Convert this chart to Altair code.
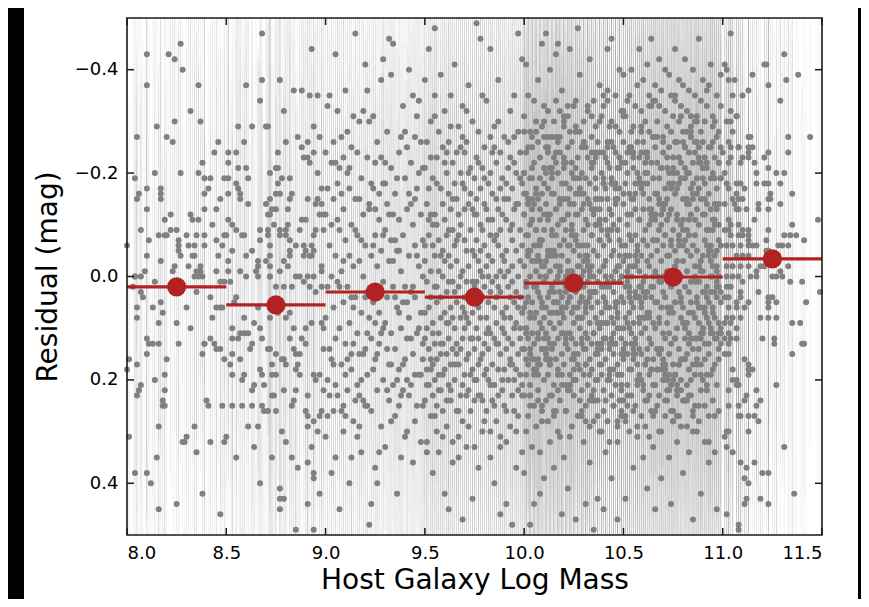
import altair as alt
import pandas as pd

# Each token: XX = mass offset inside bin (hundredths), sYY = residual (hundredths), E = error (tenths)
B80 = """
27-454 10-434 21-433 24-425 28-406 10-375 36-374 32-326 37-305 15-294 24-306 05-274 20-275 23-263
46-264 44-245 38-224 14-205 27-203 04-196 36-205 39-194 42-193 49-195 10-176 06-164 05-153 17-175
17-164 17-155 39-166 41-173 47-154 10-136 22-125 39-134 45-137 32-125 19-114 33-116 36-113 43-105
07-096 16-084 22-095 25-094 19-086 20-083 26-075 26-064 26-056 27-044 30-085 35-084 39-086 39-065
11-074 45-075 49-083 31-066 34-064 48-065 10-045 33-044 34-046 46-044 17-035 24-026 31-025 37-024
37-013 09-014 23-016 35-015 45-014 04+004 00-065
04+005 07+004 03+026 07+034 08+045 14+016 36+004 38+003 34+005 47+014 49+016 35+035 42+044 17+055
13+066 05+064 05+085 18+073 30+065 45+066 48+064 47+065 43+086 16+095 25+094 32+106 10+125 11+134
13+133 16+135 26+136 39+134 39+135 42+126 44+134 45+145 47+143 10+155 20+164 38+155 49+166 01+165
05+174 00+185 14+206 19+194 07+215 06+224 05+236 19+224 18+245 18+254 19+256 40+245 41+254 48+255
16+296 34+295 01+315 30+314 28+326 29+324 35+345 42+326 49+324 15+355 04+386 10+385 12+406 38+425
25+446 16+455 47+466
"""

B85 = """
18-475 43-446 18-385 10-374 27-386 17-345 34-364 38-365 42-356 46-354 29-325 06-294 13-295 21-296
20-294 44-295 36-275 41-264 47-276 09-265 30-264 38-255 01-245 05-246 26-244 39-235 41-234 44-246
42-225 01-226 10-214 06-215 22-205 25-214 26-216 46-205 01-194 11-195 05-186 06-175 07-164 26-185
28-196 32-194 48-175 25-165 27-164 33-166 01-165 07-154 41-155 46-156 22-154 20-145 32-156 31-134
11-145 23-135 25-136 21-124 22-125 45-145 48-146 47-124 49-125 01-114 03-105 24-106 40-115 38-114
31-105 30-094 27-096 37-095 45-094 49-095 05-096 17-095 21-094 21-085 08-086 09-084 00-085 30-086
32-074 27-085 17-075 44-086 43-064 44-055 35-066 39-064 40-055 42-046 22-065 03-054 13-055 32-056
32-044 39-045 43-046 10-044 22-045 20-036 16-034 22-025 01-035 01-014 29-035 31-026 48-024 48-015
07-016 15-015 16-024 27-015 35+004 37+005 41+006 44+004 22+005
02+014 10+005 16+004 22+006 25+025 29+024 33+025 39+016 42+024 45+035 48+026 05+045 04+056 16+065
22+085 26+074 30+084 32+076 09+085 03+104 07+115 09+114 11+116 17+105 18+125 34+106 40+104 43+095
48+094 49+106 14+095 32+124 38+125 40+136 03+124 06+125 13+136 12+144 21+145 22+144 34+146 35+155
37+156 49+144 25+155 28+164 29+165 30+176 03+154 07+166 02+175 23+174 17+186 36+175 37+194 35+185
44+196 47+194 45+205 09+195 08+206 03+194 18+195 23+196 25+194 14+215 13+226 19+214 35+225 29+226
34+244 41+235 49+226 23+235 24+234 03+256 08+255 13+254 18+256 19+265 21+264 25+266 33+255 40+264
41+275 48+266 47+275 44+286 41+295 46+306 11+295 16+294 28+306 00+315 30+326 14+334 43+335 05+356
23+355 33+354 41+365 44+386 44+395 36+376 17+406 27+415 29+434 27+436 27+455 47+426 41+444 35+495
44+496
"""

B90 = """
00-125 00+084 00+316 01-335 01+025 01+204 02-064 02+146 03-224 03+005 03+385 04-156 04+064 04+265
05-434 05-044 05+124 06-185 06+016 06+236 07-095 07+104 07+454 08-276 08-014 08+175 09-135 09+056
09+306 10-364 10-075 10+134 11-204 11+025 11+225 12-045 12+095 12+405 13-255 13-106 13+185 14-024
14+064 14+286 15-476 15-154 15+045 16-085 16+115 16+214 17-305 17-035 17+155 18-196 18+074 18+344
19-125 19+006 19+244 20-415 20-064 20+145 21-234 21+035 21+195 22-145 22+085 22+486 23-045 23+125
23+264 24-315 24-176 24+055 25-085 25+165 25+375 26-264 26-025 26+225 27-115 27+074 27+135 28-385
28-054 28+296 29-185 29+015 29+205 30-095 30+094 30+335 31-285 31-144 31+045 32-036 32+175 32+245
33-215 33-075 33+115 34-455 34-125 34+025 35-165 35+144 35+275 36-054 36+065 36+426 37-245 37-115
37+185 38-015 38+105 38+234 39-335 39-085 39+055 40-195 40+024 40+165 41-135 41+125 41+305 42-405
42-045 42+085 43-225 43+035 43+215 44-105 44+154 44+365 45-276 45-065 45+045 46-175 46+114 46+255
47-345 47-025 47+195 48-125 48+075 48+324 49-215 49+005 49+135
02-355 04-265 06-115 08+265 10+195 12-175 14-315 16+315 18-075 20+255 22-305 24+185 26+405 28-235
30-225 32-465 34+215 36-195 38+355 40-285 42+235 44-355 46-045 48-265 01-175 03+165 05+215 07-215
09-235 11+165 13+355 15+245 17-155 19+155 21-365 23-185 25-225 27+345 29-425 31+225 33+285 35-075
37+255 39+175 41-255 43-145 45+195 47+105 49+255 03-105 05-225 07+025 09+255 11-285 13+045 15-095
17+235 19-325 21+115 23+445 25+095 27-165 29+105 31+145 33-395 35+045 37-055 39+225 41+055 43+125
45+285 47-205 49-075 00-245 02+235 04+175 06-325 08-165 10+275 12-215 14+135 16-245 18+205 20+045
22-135 24-065 26+155 28+115 30-185 32-125 34-035 36+205 38-275 40+315 42-165 44+025 46-315 48+195
01+275 05+355 09-035 13+155 17+295 21+255 25-135 29-085 33+175 37+075 41+205 45-155 49+165
"""

B95 = """
00-215 00-035 00+125 00+245 00-385 00+075 01-145 01+015 01+185 01+325 01-265 01+105
02-085 02+065 02+215 02-445 02-175 02+145 03-305 03-015 03+165 03+275 03+045 03-125
04-195 04+095 04+235 04-065 04+385 04+175 05-125 05+025 05+205 05-355 05+135 05-045
06-235 06+055 06+255 06-105 06+165 06+025 07-075 07+115 07+195 07-285 07+345 07-015
08-175 08+045 08+225 08-395 08+085 08+155 09-255 09-055 09+135 09+265 09+005 09-145
10-115 10+075 10+185 10-325 10+425 10-035 11-205 11+035 11+155 11+295 11-085 11+095
12-045 12+125 12-265 12+215 12-165 12+015 13-135 13+065 13+245 13-355 13+175 13-025
14-225 14+015 14+145 14+365 14-095 14+085 15-065 15+105 15-185 15+205 15-415 15+035
16-155 16+055 16+265 16-035 16+135 16-245 17-295 17-085 17+175 17+025 17+315 17-125
18-105 18+085 18+235 18-205 18+005 18+145 19-185 19-015 19+125 19+285 19-335 19+065
20-075 20+045 20+195 20-245 20+105 20-135 21-265 21+015 21+165 21+335 21-055 21+085
22-145 22+095 22-025 22+225 22-375 22+155 23-215 23+035 23+125 23-095 23+265 23-165
24-055 24+075 24+185 24-305 24+015 24+435 25-125 25+025 25+145 25+245 25-195 25-045
26-235 26+105 26-075 26+205 26+015 26-155 27-035 27+065 27+175 27-285 27+125 27+375
28-175 28-015 28+235 28-105 28+085 28-465 29-095 29+045 29+155 29+305 29-215 29+005
30-255 30+025 30+135 30-065 30+195 30-145 31-135 31+085 31-025 31+265 31-345 31+115
32-045 32+055 32+205 32-185 32+145 32+005 33-205 33-085 33+115 33+355 33+035 33-275
34-115 34+015 34+175 34-035 34+245 34-165 35-295 35+065 35+125 35-075 35+215 35+405
36-155 36-005 36+095 36+285 36-225 36+045 37-065 37+135 37-135 37+185 37+025 37-385
38-245 38+035 38+155 38-095 38+335 38-015 39-125 39+075 39+225 39-195 39+105 39-045
40-035 40+115 40-275 40+185 40+005 40+255 41-185 41-055 41+145 41-115 41+065 41+445
42-265 42+025 42+205 42-015 42+125 42-155 43-095 43+085 43+175 43-325 43+045 43+295
44-175 44-025 44+135 44+235 44-075 44+015 45-225 45+055 45+105 45-135 45+265 45-355
46-055 46+035 46+185 46-205 46+095 46+375 47-145 47+005 47+155 47-285 47+065 47+225
48-095 48+125 48-035 48+195 48-245 48+045 49-185 49+075 49+215 49-065 49+145 49-425
05-485 19+475 33-445 44+485 12+455 26-495 38+465 47-475
"""

B95X = """
03+185 07+225 11+245 15+175 19+215 23+195 27+235 31+185 35+255 39+205 43+165 47+275
01+215 05+275 09+195 13+225 17+265 21+235 25+205 29+245 33+215 37+235 41+265 45+205 49+235
02-115 06-185 10-225 14-155 18-255 22-205 26-125 30-195 34-245 38-175 42-215 46-145
04+115 08+135 12+095 16+155 20+075 24+125 28+165 32+105 36+135 40+085 44+175 48+105
00-065 04-105 08-045 12-095 16-075 20-175 24-135 28-055 32-115 36-085 40-155 44-105 48-195
01+345 09+315 17+355 25+335 33+305 41+325 49+345 05-315 13-295 21-325 29-355 37-305 45-275
06+305 14+325 22+295 30+285 38+315 46+305 03-235 11-245 19-275 27-225 35-255 43-235
"""

B100 = """
00-315 00-125 00-025 00+065 00+145 00+235 00-205 00+385 01-245 01-085 01+015 01+105 01+195 01-165 01+305 01-415
02-355 02-155 02-045 02+045 02+125 02+275 02-255 02+175 03-195 03-105 03+005 03+085 03+215 03-285 03+145 03-055
04-275 04-135 04-035 04+055 04+165 04+335 04-215 04+115 05-225 05-065 05+025 05+135 05+255 05-345 05-145 05+445
06-305 06-175 06-015 06+075 06+185 06+295 06-095 06+025 07-155 07-045 07+035 07+115 07+225 07-265 07-385 07+165
08-235 08-115 08-005 08+095 08+175 08+345 08-195 08+045 09-295 09-075 09+055 09+145 09+265 09-165 09-025 09-455
10-185 10-095 10+015 10+085 10+205 10-335 10+125 10+395 11-255 11-145 11-035 11+065 11+155 11+245 11-205 11+005
12-325 12-055 12+045 12+125 12+285 12-175 12-115 12+195 13-215 13-125 13-015 13+095 13+175 13-405 13+035 13+325
14-275 14-085 14+025 14+145 14+235 14-195 14-045 14+075 15-165 15-055 15+055 15+105 15+215 15-305 15+375 15-235
16-345 16-135 16-025 16+075 16+165 16+265 16-085 16+015 17-205 17-105 17+005 17+125 17+195 17-265 17+055 17-455
18-245 18-065 18+035 18+095 18+245 18-155 18+315 18-025 19-185 19-115 19-045 19+065 19+155 19+215 19-365 19+115
20-295 20-155 20+015 20+085 20+175 20+355 20-075 20-225 21-225 21-095 21+025 21+135 21+265 21-185 21-005 21+065
22-315 22-125 22-035 22+055 22+145 22+225 22-255 22+415 23-175 23-065 23+045 23+115 23+195 23-285 23-145 23+005
24-265 24-105 24-015 24+075 24+165 24+295 24-205 24+125 25-195 25-145 25+005 25+095 25+235 25-335 25-055 25+185
26-345 26-085 26+035 26+135 26+205 26-215 26-165 26+475 27-235 27-125 27-025 27+065 27+155 27+275 27-065 27+015
28-285 28-045 28+055 28+105 28+185 28-175 28-395 28+245 29-205 29-135 29-005 29+085 29+225 29-255 29+135 29+045
30-165 30-095 30+025 30+145 30+195 30+325 30-305 30-035 31-255 31-115 31-045 31+075 31+175 31-195 31+255 31+115
32-325 32-065 32+015 32+125 32+215 32-155 32-235 32+055 33-185 33-145 33+045 33+095 33+165 33+365 33-015 33-425
34-275 34-085 34-025 34+065 34+235 34-215 34+135 34+185 35-225 35-125 35+005 35+115 35+285 35-345 35-055 35+035
36-295 36-105 36+035 36+085 36+155 36+205 36-175 36-245 37-155 37-045 37+055 37+135 37+245 37-265 37+015 37+435
38-245 38-135 38-015 38+105 38+175 38+305 38-075 38-375 39-205 39-095 39+025 39+075 39+195 39-315 39-155 39+145
40-335 40-065 40+045 40+125 40+265 40-185 40-025 40+225 41-175 41-115 41-035 41+055 41+165 41-235 41+345 41+095
42-265 42-155 42+015 42+095 42+205 42+285 42-085 42-445 43-215 43-075 43+065 43+145 43+185 43-295 43-135 43+025
44-305 44-125 44-005 44+085 44+235 44-195 44+395 44+125 45-185 45-055 45+035 45+115 45+155 45+255 45-255 45-105
46-245 46-145 46+055 46+135 46+215 46-355 46-015 46+065 47-155 47-095 47-025 47+075 47+175 47+325 47-215 47+195
48-285 48-115 48+015 48+105 48+245 48-175 48-045 48-405 49-225 49-065 49+045 49+125 49+195 49-325 49+155 49+005
03+485 11-475 19+465 27-485 35+495 44-465 08+425 31+445 40+455 16-435 23-445 47+475
"""

B100X = """
00-285 07+125 14-055 21+215 28-175 35+035 42-225 49+275 06-095 13+165 20-315 27+085 34-135 41+245 48-025
05+185 12-255 19+115 26-075 33+295 40-195 47+055 04-115 11+145 18-275 25+205 32-045 39+095 46-155 03+255
10-215 17+015 24-085 31+175 38-305 45+135 02-145 09+065 16-245 23+225 30-015 37+155 44-185 01+105 08-065
15+265 22-125 29+045 36-235 43+195
03+075 14-215 25+155 36-105 47+285 08-035 19+195 30-265 41+025 02-145 13+235 24-085 35+115 46-295 07+175
18-015 29+265 40-185 01+055 12-125 23+215 34-245 45+095 06-065 17+305 28-165 39+135 00-205 11+005 22-335
33+245 44-045 05+165 16-225 27+085 38-115 49+275 10-275 21+125 32-025 43+205 04-155 15+035 26-195 37+145
48-075 09+255 20-235 31+065 42-095
06-165 19+045 32-335 45+185 08-075 21+265 34-225 47+105 10-025 23+315 36-135 49+215 12-275 25+065 38-105
01+165 14-205 27+015 40-355 03+235 16-045 29+125 42-255 05+085 18-155 31+285 44-095 07+195 20-305 33+035
46-185 09+145 22-065 35+245 48-235 11+115 24-015 37+205 00-125 13+075 26-285 39+175 02-055 15+275 28-195
41+005 04-115 17+225 30-265 43+135
09+105 26-125 43+205 10-305 27+025 44-185 11+145 28-065 45+255 12-245 29+085 46-015 13+175 30-145 47+295
14-095 31+055 48-215 15+135 32-035 49+225 16-275 33+005 00-165 17+185 34-085 01+115 18-325 35+245 02-045
19+075 36-195 03+155 20-115 37+275 04-255 21+035 38-075 05+195 22-155 39+095 06-285 23+215 40-025 07+125
24-225 41+065 08-135 25+165 42-365
12-045 31+145 00-205 19+065 38-115 07+245 26-295 45+015 14-165 33+195 02-085 21+115 40-245 09+285 28-025
47+085 16-135 35+225 04-195 23+045 42-345 11+165 30-065 49+265 18-145 37+095 06-035 25+205 44-265 13+135
32-105 01+025 20-215 39+305 08-075 27+175 46-175 15+055 34-315 03+235 22-015 41+125 10-125 29+275 48-235
17+075 36-155 05+185 24-095 43+325
"""

B105 = """
00-265 00-145 00-035 00+055 00+165 00+245 00-395 00+105 01-315 01-185 01-065 01+025 01+135 01+285 01-225 01+435
02-205 02-105 02+015 02+095 02+215 02-345 02-005 02+155 03-355 03-165 03-045 03+075 03+185 03+305 03-255 03+025
04-245 04-125 04+005 04+115 04+235 04-405 04-075 04+185 05-295 05-155 05-025 05+065 05+145 05+375 05-215 05+095
06-185 06-085 06+035 06+125 06+255 06-335 06-135 06+045 07-375 07-205 07-055 07+045 07+175 07+215 07-265 07+315
08-235 08-115 08+025 08+095 08+195 08-445 08-015 08+145 09-325 09-175 09-045 09+055 09+155 09+275 09-245 09+115
10-265 10-135 10+015 10+085 10+225 10-385 10-075 10+355 11-205 11-095 11-005 11+105 11+175 11+295 11-305 11+045
12-415 12-185 12-065 12+035 12+145 12+245 12-235 12+415 13-285 13-155 13-025 13+075 13+195 13-355 13-105 13+125
14-225 14-115 14+045 14+135 14+265 14-465 14-045 14+185 15-345 15-195 15-075 15+025 15+165 15+335 15-275 15+095
16-255 16-125 16-015 16+105 16+215 16-375 16-165 16+455 17-305 17-165 17-055 17+055 17+145 17+255 17-225 17+005
18-195 18-095 18+015 18+085 18+235 18-425 18-335 18+155 19-365 19-215 19-035 19+065 19+185 19+305 19-125 19+395
20-275 20-145 20+005 20+115 20+205 20-245 20-065 20+035 21-325 21-175 21-085 21+045 21+125 21+275 21-405 21+175
22-235 22-115 22-015 22+095 22+245 22-295 22-155 22+065 23-395 23-205 23-045 23+015 23+155 23+355 23-255 23+115
24-285 24-135 24+025 24+135 24+215 24-355 24-075 24+445 25-215 25-095 25-005 25+075 25+175 25+265 25-185 25-315
26-345 26-165 26-055 26+055 26+195 26-445 26-265 26+125 27-265 27-125 27+015 27+105 27+235 27+325 27-035 27-205
28-305 28-185 28-065 28+035 28+145 28-385 28-235 28+175 29-225 29-105 29+005 29+085 29+205 29+295 29-335 29+045
30-375 30-155 30-035 30+065 30+165 30-265 30-115 30+385 31-255 31-195 31-075 31+025 31+125 31+245 31-425 31+105
32-325 32-145 32-015 32+095 32+215 32-285 32-055 32+155 33-205 33-085 33+035 33+115 33+185 33+345 33-245 33-365
34-285 34-175 34-045 34+055 34+235 34-315 34-125 34+015 35-405 35-225 35-065 35+075 35+145 35+275 35-165 35+475
36-245 36-115 36+005 36+125 36+195 36-355 36-025 36+085 37-315 37-195 37-055 37+045 37+165 37+305 37-265 37-135
38-225 38-105 38+015 38+095 38+255 38-465 38-175 38+145 39-345 39-155 39-035 39+065 39+175 39+225 39-285 39+425
40-265 40-125 40-015 40+105 40+205 40-385 40-215 40+035 41-305 41-185 41-075 41+035 41+135 41+325 41-235 41+165
42-215 42-095 42+025 42+085 42+225 42-335 42-145 42+045 43-375 43-165 43-045 43+055 43+155 43+275 43-255 43+365
44-255 44-135 44+005 44+115 44+195 44-415 44-065 44+105 45-295 45-205 45-025 45+075 45+245 45-315 45-115 45+185
46-235 46-115 46+035 46+125 46+175 46+345 46-195 46-045 47-355 47-175 47-055 47+045 47+215 47-275 47-135 47+455
48-285 48-145 48-005 48+095 48+165 48+265 48-225 48+025 49-335 49-195 49-065 49+055 49+135 49-395 49-255 49+115
"""

B105X = """
00-165 07+045 14-335 21+185 28-075 35+265 42-225 49+105 06-025 13+315 20-135 27+215 34-275 41+065 48-105
05+165 12-205 19+015 26-355 33+235 40-045 47+125 04-255 11+085 18-155 25+285 32-095 39+195 46-305 03+035
10-185 17+145 24-065 31+245 38-235 45+115 02-015 09+205 16-125 23+075 30-285 37+175 44-055 01+275 08-195
15+005 22-115 29+225 36-265 43+135
03+105 14-125 25+205 36-305 47+025 08-185 19+145 30-065 41+255 02-245 13+085 24-015 35+175 46-145 07+295
18-095 29+055 40-215 01+135 12-035 23+225 34-275 45+005 06-165 17+185 28-085 39+115 00-325 11+245 22-045
33+075 44-195 05+155 16-115 27+275 38-255 49+035 10-075 21+195 32-155 43+095 04-285 15+215 26-025 37+125
48-225 09+065 20-135 31+165 42-365
06-045 19+145 32-205 45+065 08-115 21+245 34-295 47+015 10-165 23+195 36-085 49+115 12-245 25+285 38-025
01+085 14-135 27+225 40-195 03+045 16-345 29+165 42-065 05+265 18-145 31+095 44-035 07+205 20-265 33+135
46-105 09+025 22-215 35+305 48-075 11+175 24-175 37+055 00-315 13+235 26-015 39+125 02-125 15+275 28-235
41+075 04-155 17+185 30-095 43+325
09-285 26+125 43-055 10+215 27-175 44+035 11-225 28+275 45-095 12+165 29-315 46+085 13-135 30+245 47-025
14+185 31-255 48+115 15-075 32+295 49-195 16+055 33-115 00+145 17-275 34+205 01-045 18+095 35-155 02+255
19-215 36+015 03-085 20+175 37-305 04+135 21-145 38+065 05-245 22+225 39-015 06+155 23-185 40+105 07-065
24+265 41-125 08+045 25-235 42+195
12+075 31-215 00+155 19-105 38+285 07-035 26+195 45-265 14+025 33-145 02+235 21-085 40+115 09-295 28+175
47-015 16+265 35-185 04+055 23-125 42+215 11-245 30+095 49-065 18+305 37-165 06+135 25-205 44+005 13-335
32+245 01-045 20+165 39-225 08+085 27-115 46+275 15-275 34+125 03-025 22+205 41-155 10+035 29-195 48+145
17-075 36+255 05-235 24+065 43-095
"""

B110 = """
04-475 31-436 21-414 22-415 15-396 02-405 01-414 03-386 06-385 32-385 38-396 23-374 05-355 10-356
13-365 29-346 04-325 07-314 07-315 02-306 04-305 05-284 44-276 13-275 14-276 33-274 03-265 04-254
08-255 08-256 13-255 15-254 00-246 13-244 13-235 23-246 33-244 04-235 03-226 09-224 16-225 21-236
10-234 23-215 17-206 01-204 27-205 31-206 02-184 07-185 09-186 17-184 21-185 23-186 29-184 03-175
07-166 11-174 24-165 23-156 24-154 05-155 08-156 10-154 35-165 18-146 18-134 29-145 01-146 06-144
07-135 08-136 12-134 23-135 03-116 04-105 16-114 48-115 35-106 01-094 03-095 10-096 13-095 08-104
23-096 31-085 34-084 37-086 04-085 08-084 10-086 13-085 13-074 17-065 22-076 28-065 30-064 33-066
41-075 02-064 05-065 09-066 13-064 15-065 07-044 10-045 13-046 22-055 23-054 19-024 21-025 33-026
02-024 05-025 09-026 13-025 17-014 29-015
02+004 05+005 08+006 10+014 14+005 17+004 25+005 27+006 30+004 34+015 40+014 49+035 02+025 04+026
01+044 03+045 07+056 09+045 13+054 09+035 18+034 23+045 23+056 23+064 27+055 25+046 42+055 03+065
07+064 02+086 05+085 09+084 11+065 19+086 23+084 27+085 35+096 39+094 01+095 04+096 07+105 03+114
01+126 04+125 07+124 20+125 26+126 26+134 40+135 41+134 03+136 01+155 03+154 35+156 11+165 13+174
13+185 15+186 13+194 05+185 07+206 07+215 05+204 08+214 27+215 03+226 17+225 12+234 11+245 17+256
19+244 03+255 08+254 09+276 08+275 13+274 16+275 18+286 03+305 02+304 01+316 13+305 02+335 31+336
05+344 09+365 12+375 16+364 20+386 23+385 11+394 13+405 36+426 12+435 11+444 19+436 23+445 02+466
08+485 08+494
"""

BIN_STARTS = [8.0, 8.5, 9.0, 9.5, 9.5, 10.0, 10.0, 10.5, 10.5, 11.0]
BIN_POINTS = [B80, B85, B90, B95, B95X, B100, B100X, B105, B105X, B110]

# Binned means (red)
MEAN_MASS = [8.25, 8.75, 9.25, 9.75, 10.25, 10.75, 11.25]
MEAN_RES = [0.020, 0.055, 0.030, 0.040, 0.013, 0.001, -0.034]
MEAN_HALFWIDTH = [0.25, 0.25, 0.25, 0.25, 0.25, 0.25, 0.25]

X_TICKS = [8.0, 8.5, 9.0, 9.5, 10.0, 10.5, 11.0, 11.5]
Y_TICKS = [-0.4, -0.2, 0.0, 0.2, 0.4]

rows = []
for start, block in zip(BIN_STARTS, BIN_POINTS):
    for t in block.split():
        m = start + int(t[:2]) / 100.0
        r = int(t[2:5]) / 100.0
        e = int(t[5]) / 10.0
        rows.append({"mass": m, "res": r, "lo": r - e, "hi": r + e})
pts = pd.DataFrame(rows)

means = pd.DataFrame({
    "mass": MEAN_MASS,
    "res": MEAN_RES,
    "m0": [m - h for m, h in zip(MEAN_MASS, MEAN_HALFWIDTH)],
    "m1": [m + h for m, h in zip(MEAN_MASS, MEAN_HALFWIDTH)],
})
xt = pd.DataFrame({"mass": X_TICKS})
yt = pd.DataFrame({"res": Y_TICKS})

W, H = 695, 517
FONT = "DejaVu Sans"
FRAME = "#1a1a1a"

xs = alt.Scale(domain=[8.0, 11.5], nice=False, zero=False)
ys = alt.Scale(domain=[-0.5, 0.5], nice=False, zero=False, reverse=True)
xaxis = alt.Axis(values=X_TICKS, format=".1f", ticks=False, domain=False, grid=False, zindex=2,
                 labelFontSize=18, labelPadding=9, labelColor="black", labelFont=FONT,
                 title="Host Galaxy Log Mass", titleFontSize=28, titleFontWeight="normal",
                 titleColor="black", titleFont=FONT, titlePadding=4)
yaxis = alt.Axis(values=Y_TICKS, format=".1f", ticks=False, domain=False, grid=False, zindex=2,
                 labelFontSize=18, labelPadding=9, labelColor="black", labelFont=FONT,
                 title="Residual (mag)", titleFontSize=28, titleFontWeight="normal",
                 titleColor="black", titleFont=FONT, titlePadding=12)

X = lambda f="mass": alt.X(f"{f}:Q", scale=xs, axis=xaxis)
Y = lambda f="res": alt.Y(f"{f}:Q", scale=ys, axis=yaxis)

one = pd.DataFrame({"a": [0]})
bg = alt.Chart(one).mark_rect(color="white").encode(
    x=alt.value(-103), x2=alt.value(731), y=alt.value(-10), y2=alt.value(600))

err = alt.Chart(pts).mark_rule(color="#808080", opacity=0.09, strokeWidth=1, clip=True).encode(
    x=X(), y=Y("lo"), y2="hi:Q")

dots = alt.Chart(pts).mark_circle(size=36, color="#808080", opacity=1).encode(x=X(), y=Y())

mrule = alt.Chart(means).mark_rule(color="#b22222", strokeWidth=3.2).encode(
    x=X("m0"), x2="m1:Q", y=Y())
mdot = alt.Chart(means).mark_circle(size=370, color="#b22222", opacity=1).encode(x=X(), y=Y())

tick_style = dict(color=FRAME, strokeWidth=1.5)
xb = alt.Chart(xt).mark_rule(**tick_style).encode(x=X(), y=alt.value(H), y2=alt.value(H - 7))
xtop = alt.Chart(xt).mark_rule(**tick_style).encode(x=X(), y=alt.value(0), y2=alt.value(7))
yl = alt.Chart(yt).mark_rule(**tick_style).encode(y=Y(), x=alt.value(0), x2=alt.value(7))
yr = alt.Chart(yt).mark_rule(**tick_style).encode(y=Y(), x=alt.value(W), x2=alt.value(W - 7))

frame = alt.Chart(one).mark_rect(filled=False, stroke=FRAME, strokeWidth=1.6).encode(
    x=alt.value(0), x2=alt.value(W), y=alt.value(0), y2=alt.value(H))

chart = alt.layer(bg, err, dots, mrule, mdot, xb, xtop, yl, yr, frame).properties(
    width=W, height=H,
    autosize=alt.AutoSizeParams(type="none"),
    padding={"left": 119, "top": 10, "right": 39, "bottom": 64},
    background="black",
).configure_view(strokeWidth=0)

chart.save("out.html", embed_options={"renderer": "svg", "actions": False})
